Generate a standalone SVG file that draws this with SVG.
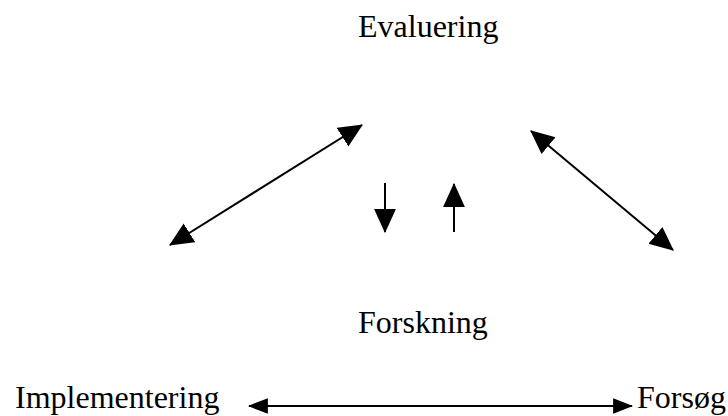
<svg xmlns="http://www.w3.org/2000/svg" width="728" height="416" viewBox="0 0 728 416">
<style>
.t{font-family:"Liberation Serif","Times New Roman",serif;font-size:32px;fill:#000}
.c{stroke:#000;stroke-width:2;fill:none}
</style>
<defs>
<marker id="ah" markerUnits="userSpaceOnUse" markerWidth="24" markerHeight="24" viewBox="0 0 22 22" refX="21" refY="11" orient="auto-start-reverse">
<path d="M0,1 L22,11 L0,21 Z" fill="#000"/>
</marker>
<marker id="ahs" markerUnits="userSpaceOnUse" markerWidth="20" markerHeight="20" viewBox="0 0 18 16" refX="17" refY="8" orient="auto-start-reverse">
<path d="M0,1 L18,8 L0,15 Z" fill="#000"/>
</marker>
</defs>
<rect width="728" height="416" fill="#fff"/>
<g id="evaluering"><text class="t" x="358" y="37">Evaluering</text></g>
<g id="forskning"><text class="t" x="358" y="333">Forskning</text></g>
<g id="implementering"><text class="t" x="15" y="408">Implementering</text></g>
<g id="forsoeg"><text class="t" x="637" y="408">Forsøg</text></g>
<g id="connectors">
<line class="c" x1="362" y1="125" x2="170" y2="245" marker-start="url(#ah)" marker-end="url(#ah)"/>
<line class="c" x1="531" y1="131" x2="673" y2="250" marker-start="url(#ah)" marker-end="url(#ah)"/>
<line class="c" x1="385" y1="183" x2="385" y2="232" marker-end="url(#ah)"/>
<line class="c" x1="454" y1="232" x2="454" y2="184" marker-end="url(#ah)"/>
<line class="c" x1="249" y1="406" x2="632" y2="406" marker-start="url(#ahs)" marker-end="url(#ahs)"/>
</g>
</svg>
